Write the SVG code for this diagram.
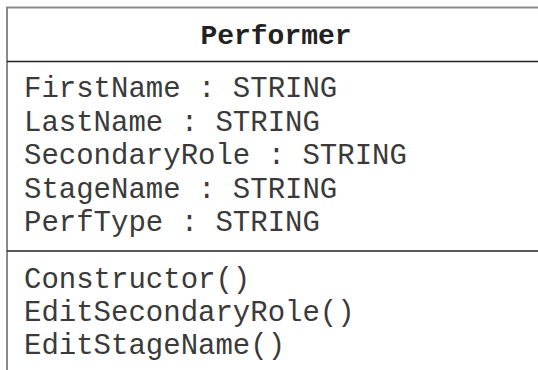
<svg xmlns="http://www.w3.org/2000/svg" width="538" height="370" viewBox="0 0 538 370">
<style>
.border{fill:none;stroke:#8a8a8a;stroke-width:2}
.div{stroke:#222;stroke-width:1.6}
.t{font-family:"Liberation Mono","Courier New",monospace;font-size:29px;fill:#3a3a3a}
.h{font-family:"Liberation Mono","Courier New",monospace;font-size:28px;font-weight:bold;fill:#222}
</style>
<g id="performer">
<path class="border" d="M7,372 V7.5 H540"/>
<line class="div" x1="7" y1="61.5" x2="540" y2="61.5"/>
<line class="div" x1="7" y1="251" x2="540" y2="251"/>
<text class="h" x="276" y="43.5" text-anchor="middle">Performer</text>
<text class="t" x="24" y="97">FirstName : STRING</text>
<text class="t" x="24" y="130.5">LastName : STRING</text>
<text class="t" x="24" y="164">SecondaryRole : STRING</text>
<text class="t" x="24" y="197.5">StageName : STRING</text>
<text class="t" x="24" y="231">PerfType : STRING</text>
<text class="t" x="24" y="287.5">Constructor()</text>
<text class="t" x="24" y="320.5">EditSecondaryRole()</text>
<text class="t" x="24" y="353.5">EditStageName()</text>
</g>
<g id="connectors"/>
</svg>
